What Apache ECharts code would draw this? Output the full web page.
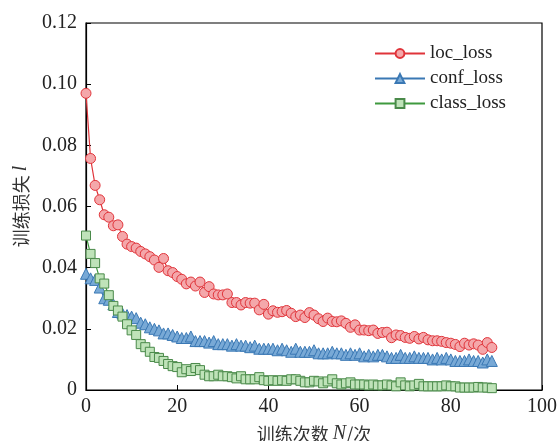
<!DOCTYPE html>
<html><head><meta charset="utf-8">
<script src="https://cdn.jsdelivr.net/npm/echarts@6/dist/echarts.min.js"></script>
<style>html,body{margin:0;padding:0;background:#fff}#c{width:557px;height:441px}</style>
</head><body><div id="c"></div>
<script>
const epochs = Array.from({length: 90}, (_, i) => i);
const locLoss = [0.0970,0.0757,0.0669,0.0622,0.0573,0.0565,0.0537,0.0540,0.0502,0.0477,
0.0469,0.0464,0.0453,0.0445,0.0436,0.0425,0.0401,0.0430,0.0390,0.0384,
0.0371,0.0362,0.0347,0.0353,0.0340,0.0353,0.0319,0.0338,0.0314,0.0311,
0.0311,0.0314,0.0286,0.0286,0.0278,0.0286,0.0284,0.0284,0.0262,0.0280,
0.0248,0.0259,0.0254,0.0256,0.0260,0.0251,0.0240,0.0245,0.0237,0.0253,
0.0245,0.0233,0.0224,0.0235,0.0224,0.0223,0.0226,0.0218,0.0205,0.0213,
0.0196,0.0196,0.0194,0.0196,0.0185,0.0188,0.0189,0.0171,0.0180,0.0178,
0.0172,0.0169,0.0175,0.0167,0.0172,0.0164,0.0161,0.0161,0.0159,0.0155,
0.0153,0.0149,0.0142,0.0153,0.0147,0.0151,0.0147,0.0133,0.0155,0.0139];
const confLoss = [0.0380,0.0365,0.0360,0.0335,0.0300,0.0295,0.0280,0.0255,0.0250,0.0245,
0.0240,0.0235,0.0220,0.0215,0.0205,0.0200,0.0195,0.0185,0.0185,0.0180,
0.0175,0.0170,0.0170,0.0175,0.0160,0.0160,0.0160,0.0155,0.0160,0.0150,
0.0150,0.0150,0.0145,0.0150,0.0145,0.0145,0.0140,0.0145,0.0135,0.0135,
0.0135,0.0135,0.0130,0.0135,0.0130,0.0125,0.0135,0.0125,0.0125,0.0125,
0.0130,0.0120,0.0120,0.0120,0.0125,0.0120,0.0120,0.0115,0.0120,0.0115,
0.0120,0.0110,0.0115,0.0110,0.0115,0.0115,0.0110,0.0105,0.0105,0.0115,
0.0105,0.0105,0.0110,0.0105,0.0105,0.0105,0.0100,0.0105,0.0100,0.0105,
0.0100,0.0095,0.0095,0.0095,0.0100,0.0095,0.0095,0.0090,0.0100,0.0095];
const classLoss = [0.0505,0.0445,0.0415,0.0365,0.0348,0.0310,0.0275,0.0260,0.0240,0.0215,
0.0195,0.0180,0.0150,0.0140,0.0125,0.0108,0.0105,0.0095,0.0085,0.0078,
0.0075,0.0058,0.0068,0.0062,0.0072,0.0065,0.0050,0.0045,0.0045,0.0050,
0.0045,0.0045,0.0042,0.0038,0.0045,0.0035,0.0035,0.0035,0.0042,0.0032,
0.0030,0.0032,0.0030,0.0032,0.0030,0.0035,0.0035,0.0030,0.0025,0.0025,
0.0030,0.0028,0.0022,0.0028,0.0035,0.0022,0.0018,0.0022,0.0025,0.0018,
0.0018,0.0018,0.0015,0.0018,0.0015,0.0015,0.0018,0.0015,0.0012,0.0025,
0.0015,0.0012,0.0015,0.0020,0.0012,0.0012,0.0012,0.0012,0.0012,0.0015,
0.0012,0.0012,0.0008,0.0008,0.0008,0.0008,0.0010,0.0008,0.0008,0.0006];
const seriesNames = ['loc_loss','conf_loss','class_loss'];
const xTicks = [0,20,40,60,80,100];
const yTicks = [0,0.02,0.04,0.06,0.08,0.10,0.12];

const serif = '"Liberation Serif","Times New Roman",serif';
const cjk = '"Noto Sans CJK SC",sans-serif';
const toPairs = arr => arr.map((v, i) => [epochs[i], v]);

const chart = echarts.init(document.getElementById('c'));
chart.setOption({
  animation: false,
  grid: {left: 86, right: 15, top: 23, bottom: 51, show: true, borderColor: '#000', borderWidth: 1.2,
         backgroundColor: 'transparent', outerBoundsMode: 'none', containLabel: false},
  legend: {
    data: seriesNames, orient: 'vertical', left: 369, top: 39, itemWidth: 50, itemHeight: 11, itemGap: 6,
    textStyle: {fontFamily: serif, fontSize: 19, color: '#222'}
  },
  xAxis: {
    type: 'value', min: xTicks[0], max: xTicks[xTicks.length - 1], interval: 20,
    splitLine: {show: false},
    axisLine: {lineStyle: {color: '#000', width: 1.2}},
    axisTick: {inside: true, length: 5, lineStyle: {color: '#000'}},
    axisLabel: {fontFamily: serif, fontSize: 20, color: '#222', margin: 7},
    name: '{a|训练次数 }{b|N}{a|/次}', nameLocation: 'middle', nameGap: 34,
    nameTextStyle: {rich: {a: {fontFamily: cjk, fontSize: 18, color: '#333'}, b: {fontFamily: serif, fontStyle: 'italic', fontSize: 20, color: '#333'}}}
  },
  yAxis: {
    type: 'value', min: yTicks[0], max: yTicks[yTicks.length - 1], interval: 0.02,
    splitLine: {show: false},
    axisLine: {show: true, lineStyle: {color: '#000', width: 1.2}},
    axisTick: {show: true, inside: true, length: 5, lineStyle: {color: '#000'}},
    axisLabel: {fontFamily: serif, fontSize: 20, color: '#222', margin: 9,
      formatter: v => v === 0 ? '0' : v.toFixed(2)},
    name: '{a|训练损失 }{b|l}', nameLocation: 'middle', nameGap: 54, nameRotate: 90,
    nameTextStyle: {rich: {a: {fontFamily: cjk, fontSize: 18, color: '#333'}, b: {fontFamily: serif, fontStyle: 'italic', fontSize: 20, color: '#333'}}}
  },
  series: [
    {name: seriesNames[0], type: 'line', data: toPairs(locLoss), symbol: 'circle', symbolSize: 10,
     lineStyle: {color: '#e0343a', width: 1.2}, itemStyle: {color: '#f4a7aa', borderColor: '#e0343a', borderWidth: 1}, z: 3},
    {name: seriesNames[1], type: 'line', data: toPairs(confLoss), symbol: 'triangle', symbolSize: 11,
     lineStyle: {color: '#3a78b4', width: 1.2}, itemStyle: {color: '#78a9d6', borderColor: '#3a78b4', borderWidth: 1}, z: 2},
    {name: seriesNames[2], type: 'line', data: toPairs(classLoss), symbol: 'rect', symbolSize: 9,
     lineStyle: {color: '#3f993f', width: 1.2}, itemStyle: {color: '#bfe3b9', borderColor: '#4a8a4a', borderWidth: 1}, z: 4}
  ]
});
</script></body></html>
